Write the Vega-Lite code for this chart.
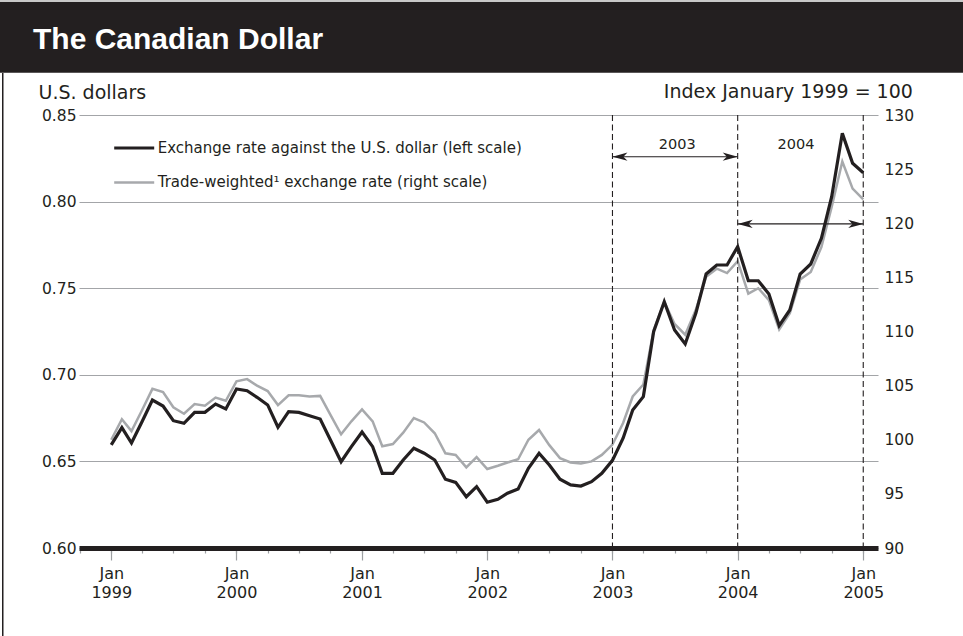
{
  "$schema": "https://vega.github.io/schema/vega-lite/v6.json",
  "padding": 0,
  "background": "white",
  "spacing": 0,
  "bounds": "flush",
  "resolve": {"scale": {"color": "independent", "shape": "independent"}, "legend": {"color": "independent", "shape": "independent"}},
  "config": {"view": {"stroke": null}, "font": "DejaVu Sans", "concat": {"spacing": 0}},
  "datasets": {
    "blank": [{}],
    "fx": [
      {"d": "1999-01-01", "usd": 0.6595, "twi": 100.0},
      {"d": "1999-02-01", "usd": 0.6695, "twi": 101.9},
      {"d": "1999-03-01", "usd": 0.6606, "twi": 100.8},
      {"d": "1999-04-01", "usd": 0.673, "twi": 102.75},
      {"d": "1999-05-01", "usd": 0.6854, "twi": 104.7},
      {"d": "1999-06-01", "usd": 0.682, "twi": 104.4},
      {"d": "1999-07-01", "usd": 0.6735, "twi": 103.0},
      {"d": "1999-08-01", "usd": 0.672, "twi": 102.4},
      {"d": "1999-09-01", "usd": 0.6783, "twi": 103.3},
      {"d": "1999-10-01", "usd": 0.6783, "twi": 103.15},
      {"d": "1999-11-01", "usd": 0.6831, "twi": 103.9},
      {"d": "1999-12-01", "usd": 0.6803, "twi": 103.6},
      {"d": "2000-01-01", "usd": 0.6918, "twi": 105.4},
      {"d": "2000-02-01", "usd": 0.6908, "twi": 105.6},
      {"d": "2000-03-01", "usd": 0.687, "twi": 105.0},
      {"d": "2000-04-01", "usd": 0.6826, "twi": 104.5},
      {"d": "2000-05-01", "usd": 0.6697, "twi": 103.2},
      {"d": "2000-06-01", "usd": 0.6787, "twi": 104.1},
      {"d": "2000-07-01", "usd": 0.6783, "twi": 104.1},
      {"d": "2000-08-01", "usd": 0.6764, "twi": 104.0},
      {"d": "2000-09-01", "usd": 0.6745, "twi": 104.05},
      {"d": "2000-10-01", "usd": 0.6624, "twi": 102.3},
      {"d": "2000-11-01", "usd": 0.6498, "twi": 100.5},
      {"d": "2000-12-01", "usd": 0.6585, "twi": 101.7},
      {"d": "2001-01-01", "usd": 0.667, "twi": 102.8},
      {"d": "2001-02-01", "usd": 0.6585, "twi": 101.7},
      {"d": "2001-03-01", "usd": 0.6431, "twi": 99.4},
      {"d": "2001-04-01", "usd": 0.6431, "twi": 99.6},
      {"d": "2001-05-01", "usd": 0.6508, "twi": 100.65},
      {"d": "2001-06-01", "usd": 0.6576, "twi": 102.0},
      {"d": "2001-07-01", "usd": 0.6547, "twi": 101.6},
      {"d": "2001-08-01", "usd": 0.6508, "twi": 100.6},
      {"d": "2001-09-01", "usd": 0.6397, "twi": 98.75},
      {"d": "2001-10-01", "usd": 0.6379, "twi": 98.6},
      {"d": "2001-11-01", "usd": 0.6296, "twi": 97.45},
      {"d": "2001-12-01", "usd": 0.6354, "twi": 98.4},
      {"d": "2002-01-01", "usd": 0.6264, "twi": 97.3},
      {"d": "2002-02-01", "usd": 0.6281, "twi": 97.6},
      {"d": "2002-03-01", "usd": 0.6316, "twi": 97.9},
      {"d": "2002-04-01", "usd": 0.6341, "twi": 98.2},
      {"d": "2002-05-01", "usd": 0.646, "twi": 100.0},
      {"d": "2002-06-01", "usd": 0.6547, "twi": 100.9},
      {"d": "2002-07-01", "usd": 0.6479, "twi": 99.5},
      {"d": "2002-08-01", "usd": 0.6397, "twi": 98.3},
      {"d": "2002-09-01", "usd": 0.6364, "twi": 97.9},
      {"d": "2002-10-01", "usd": 0.6358, "twi": 97.8},
      {"d": "2002-11-01", "usd": 0.6383, "twi": 98.0},
      {"d": "2002-12-01", "usd": 0.6431, "twi": 98.6},
      {"d": "2003-01-01", "usd": 0.6506, "twi": 99.55},
      {"d": "2003-02-01", "usd": 0.6634, "twi": 101.55},
      {"d": "2003-03-01", "usd": 0.6797, "twi": 104.0},
      {"d": "2003-04-01", "usd": 0.6874, "twi": 105.1},
      {"d": "2003-05-01", "usd": 0.7249, "twi": 110.1},
      {"d": "2003-06-01", "usd": 0.7422, "twi": 112.75},
      {"d": "2003-07-01", "usd": 0.7259, "twi": 110.7},
      {"d": "2003-08-01", "usd": 0.7178, "twi": 109.7},
      {"d": "2003-09-01", "usd": 0.7355, "twi": 112.0},
      {"d": "2003-10-01", "usd": 0.7582, "twi": 115.06},
      {"d": "2003-11-01", "usd": 0.7634, "twi": 115.8},
      {"d": "2003-12-01", "usd": 0.7634, "twi": 115.4},
      {"d": "2004-01-01", "usd": 0.774, "twi": 116.5},
      {"d": "2004-02-01", "usd": 0.7543, "twi": 113.5},
      {"d": "2004-03-01", "usd": 0.7543, "twi": 114.0},
      {"d": "2004-04-01", "usd": 0.7467, "twi": 112.9},
      {"d": "2004-05-01", "usd": 0.7284, "twi": 110.2},
      {"d": "2004-06-01", "usd": 0.7374, "twi": 111.7},
      {"d": "2004-07-01", "usd": 0.7582, "twi": 114.8},
      {"d": "2004-08-01", "usd": 0.764, "twi": 115.5},
      {"d": "2004-09-01", "usd": 0.7788, "twi": 117.8},
      {"d": "2004-10-01", "usd": 0.8028, "twi": 121.5},
      {"d": "2004-11-01", "usd": 0.8394, "twi": 125.7},
      {"d": "2004-12-01", "usd": 0.8221, "twi": 123.2},
      {"d": "2005-01-01", "usd": 0.8167, "twi": 122.2}
    ],
    "vlines": [{"d": "2003-01-01"}, {"d": "2004-01-01"}, {"d": "2005-01-01"}],
    "arrows": [
      {"start": "2003-01-01", "end": "2004-01-01", "y": 0.8259},
      {"start": "2004-01-01", "end": "2005-01-01", "y": 0.7871}
    ],
    "heads": [
      {"d": "2003-01-01", "y": 0.8259, "dir": "left"},
      {"d": "2004-01-01", "y": 0.8259, "dir": "right"},
      {"d": "2004-01-01", "y": 0.7871, "dir": "left"},
      {"d": "2005-01-01", "y": 0.7871, "dir": "right"}
    ],
    "labels": [
      {"d": "2003-07-09", "y": 0.8301, "t": "2003"},
      {"d": "2004-06-19", "y": 0.8301, "t": "2004"}
    ]
  },
  "vconcat": [
    {
      "width": 963, "height": 2,
      "data": {"name": "blank"},
      "mark": {"type": "text", "fontSize": 0, "baseline": "top"},
      "encoding": {"text": {"value": ""}},
      "view": {"fill": "#c8c8c8", "stroke": null}
    },
    {
      "width": 963, "height": 70.7,
      "data": {"name": "blank"},
      "mark": {"type": "text", "fontSize": 0, "baseline": "top"},
      "encoding": {"text": {"value": ""}},
      "view": {"fill": "#231f20", "stroke": null},
      "title": {
        "text": "The Canadian Dollar",
        "orient": "bottom", "anchor": "start", "frame": "group",
        "offset": -47.3, "dx": 33, "baseline": "top",
        "font": "Liberation Sans", "fontSize": 30, "fontWeight": "bold", "color": "#ffffff"
      }
    },
    {
      "spacing": 0,
      "bounds": "flush",
      "resolve": {"scale": {"color": "independent", "shape": "independent"}, "legend": {"color": "independent", "shape": "independent"}},
      "hconcat": [
        {
          "width": 1.8, "height": 563.3,
          "data": {"name": "blank"},
          "mark": {"type": "text", "fontSize": 0, "baseline": "top"},
          "encoding": {"text": {"value": ""}},
          "view": {"stroke": null}
        },
        {
          "width": 1.5, "height": 563.3,
          "data": {"name": "blank"},
          "mark": {"type": "text", "fontSize": 0, "baseline": "top"},
          "encoding": {"text": {"value": ""}},
          "view": {"fill": "#231f20", "stroke": null}
        },
        {
          "width": 75, "height": 1,
          "data": {"name": "blank"},
          "mark": {"type": "text", "fontSize": 0, "baseline": "top"},
          "encoding": {"text": {"value": ""}},
          "view": {"stroke": null}
        },
        {
          "spacing": 0,
          "bounds": "flush",
          "resolve": {"scale": {"color": "independent", "shape": "independent"}, "legend": {"color": "independent", "shape": "independent"}},
          "vconcat": [
            {
              "width": 1, "height": 42,
              "data": {"name": "blank"},
              "mark": {"type": "text", "fontSize": 0, "baseline": "top"},
              "encoding": {"text": {"value": ""}},
              "view": {"stroke": null}
            },
            {
              "width": 799, "height": 433,
              "layer": [
                {
                  "data": {"name": "fx"},
                  "transform": [
                    {"fold": ["usd", "twi"], "as": ["series", "value"]},
                    {"filter": "datum.series == 'twi'"}
                  ],
                  "mark": {"type": "line", "strokeWidth": 2.5, "strokeJoin": "miter"},
                  "encoding": {
                    "x": {"field": "d", "type": "temporal",
                      "scale": {"type": "utc", "nice": false, "domain": [{"year": 1998, "month": 9, "date": 29, "utc": true}, {"year": 2005, "month": 2, "date": 13, "utc": true}]},
                      "axis": {
                        "orient": "bottom", "title": null, "grid": false, "domain": false,
                        "ticks": true, "tickColor": "#9d9fa2", "tickWidth": 1.2, "tickSize": 12,
                        "values": [
                          {"year": 1999, "month": 1, "date": 1, "utc": true},
                          {"year": 2000, "month": 1, "date": 1, "utc": true},
                          {"year": 2001, "month": 1, "date": 1, "utc": true},
                          {"year": 2002, "month": 1, "date": 1, "utc": true},
                          {"year": 2003, "month": 1, "date": 1, "utc": true},
                          {"year": 2004, "month": 1, "date": 1, "utc": true},
                          {"year": 2005, "month": 1, "date": 1, "utc": true}
                        ],
                        "labelExpr": "['Jan', utcFormat(datum.value, '%Y')]",
                        "labelFont": "DejaVu Sans", "labelFontSize": 16, "labelColor": "#231f20",
                        "labelLineHeight": 19.4, "labelPadding": 5, "labelOverlap": false,
                        "labelFlush": false, "labelBound": false
                      }
                    },
                    "y": {
                      "field": "value", "type": "quantitative",
                      "scale": {"domain": [90, 130], "zero": false, "nice": false},
                      "axis": {
                        "orient": "right", "title": "Index January 1999 = 100",
                        "titleAngle": 0, "titleAlign": "right", "titleBaseline": "alphabetic",
                        "titleX": 34.4, "titleY": -17.5,
                        "titleFont": "DejaVu Sans", "titleFontSize": 19, "titleFontWeight": "normal", "titleColor": "#231f20",
                        "values": [90, 95, 100, 105, 110, 115, 120, 125, 130],
                        "labelFont": "DejaVu Sans", "labelFontSize": 15.5, "labelColor": "#231f20",
                        "labelPadding": 6, "labelOverlap": false,
                        "ticks": false, "domain": false, "grid": false
                      }
                    },
                    "color": {
                      "field": "series", "type": "nominal",
                      "scale": {"domain": ["usd", "twi"], "range": ["#231f20", "#a7a9ac"]},
                      "legend": {
                        "orient": "none", "legendX": 34.7, "legendY": 25.5, "title": null,
                        "symbolType": "stroke", "symbolSize": 1600, "symbolStrokeWidth": 3,
                        "symbolOffset": 13,
                        "labelFont": "DejaVu Sans", "labelFontSize": 15, "labelColor": "#231f20",
                        "labelOffset": 16, "labelLimit": 600, "rowPadding": 18.4,
                        "labelExpr": "datum.label == 'usd' ? 'Exchange rate against the U.S. dollar (left scale)' : 'Trade-weighted¹ exchange rate (right scale)'",
                        "encode": {"symbols": {"update": {"strokeWidth": {"signal": "datum.value == 'usd' ? 3.2 : 2.5"}}}}
                      }
                    }
                  }
                },
                {
                  "data": {"name": "vlines"},
                  "mark": {"type": "rule", "color": "#231f20", "strokeWidth": 1.1, "strokeDash": [6, 3.5]},
                  "encoding": {
                    "x": {"field": "d", "type": "temporal", "axis": null,
                      "scale": {"type": "utc", "nice": false, "domain": [{"year": 1998, "month": 9, "date": 29, "utc": true}, {"year": 2005, "month": 2, "date": 13, "utc": true}]}}
                  }
                },
                {
                  "data": {"name": "arrows"},
                  "mark": {"type": "rule", "color": "#231f20", "strokeWidth": 1.2},
                  "encoding": {
                    "x": {"field": "start", "type": "temporal", "axis": null,
                      "scale": {"type": "utc", "nice": false, "domain": [{"year": 1998, "month": 9, "date": 29, "utc": true}, {"year": 2005, "month": 2, "date": 13, "utc": true}]}},
                    "x2": {"field": "end"},
                    "y": {"field": "y", "type": "quantitative", "axis": null, "scale": {"domain": [0.6, 0.85], "zero": false, "nice": false}}
                  }
                },
                {
                  "data": {"name": "heads"},
                  "mark": {"type": "point", "filled": true, "size": 225, "color": "#231f20", "opacity": 1, "strokeWidth": 0},
                  "encoding": {
                    "x": {"field": "d", "type": "temporal", "axis": null,
                      "scale": {"type": "utc", "nice": false, "domain": [{"year": 1998, "month": 9, "date": 29, "utc": true}, {"year": 2005, "month": 2, "date": 13, "utc": true}]}},
                    "y": {"field": "y", "type": "quantitative", "axis": null, "scale": {"domain": [0.6, 0.85], "zero": false, "nice": false}},
                    "shape": {"field": "dir", "type": "nominal", "legend": null,
                      "scale": {"domain": ["left", "right"], "range": ["M0,0L2,-0.55L1.45,0L2,0.55Z", "M0,0L-2,-0.55L-1.45,0L-2,0.55Z"]}}
                  }
                },
                {
                  "data": {"name": "labels"},
                  "mark": {"type": "text", "font": "DejaVu Sans", "fontSize": 14.5, "color": "#231f20", "align": "center", "baseline": "alphabetic"},
                  "encoding": {
                    "x": {"field": "d", "type": "temporal", "axis": null,
                      "scale": {"type": "utc", "nice": false, "domain": [{"year": 1998, "month": 9, "date": 29, "utc": true}, {"year": 2005, "month": 2, "date": 13, "utc": true}]}},
                    "y": {"field": "y", "type": "quantitative", "axis": null, "scale": {"domain": [0.6, 0.85], "zero": false, "nice": false}},
                    "text": {"field": "t"}
                  }
                },
                {
                  "data": {"name": "fx"},
                  "transform": [
                    {"fold": ["usd", "twi"], "as": ["series", "value"]},
                    {"filter": "datum.series == 'usd'"}
                  ],
                  "mark": {"type": "line", "strokeWidth": 3.2, "strokeJoin": "miter"},
                  "encoding": {
                    "x": {
                      "field": "d", "type": "temporal",
                      "scale": {"type": "utc", "nice": false, "domain": [{"year": 1998, "month": 9, "date": 29, "utc": true}, {"year": 2005, "month": 2, "date": 13, "utc": true}]},
                      "axis": {
                        "orient": "bottom", "title": null, "grid": false,
                        "domain": true, "domainColor": "#231f20", "domainWidth": 5,
                        "ticks": true, "tickColor": "#9d9fa2", "tickWidth": 1.2, "tickSize": 5,
                        "tickCount": {"interval": "month", "step": 3},
                        "labels": false, "zindex": 2
                      }
                    },
                    "y": {
                      "field": "value", "type": "quantitative",
                      "scale": {"domain": [0.6, 0.85], "zero": false, "nice": false},
                      "axis": {
                        "orient": "left", "title": "U.S. dollars",
                        "titleAngle": 0, "titleAlign": "left", "titleBaseline": "alphabetic",
                        "titleX": -41, "titleY": -17,
                        "titleFont": "DejaVu Sans", "titleFontSize": 19, "titleFontWeight": "normal", "titleColor": "#231f20",
                        "values": [0.6, 0.65, 0.7, 0.75, 0.8, 0.85], "format": ".2f",
                        "labelFont": "DejaVu Sans", "labelFontSize": 15.5, "labelColor": "#231f20",
                        "labelPadding": 3, "labelOverlap": false,
                        "ticks": false, "domain": false,
                        "grid": true, "gridColor": "#a3a5a8", "gridWidth": 1.2
                      }
                    },
                    "color": {
                      "field": "series", "type": "nominal",
                      "scale": {"domain": ["usd", "twi"], "range": ["#231f20", "#a7a9ac"]},
                      "legend": {
                        "orient": "none", "legendX": 34.7, "legendY": 25.5, "title": null,
                        "symbolType": "stroke", "symbolSize": 1600, "symbolStrokeWidth": 3,
                        "symbolOffset": 13,
                        "labelFont": "DejaVu Sans", "labelFontSize": 15, "labelColor": "#231f20",
                        "labelOffset": 16, "labelLimit": 600, "rowPadding": 18.4,
                        "labelExpr": "datum.label == 'usd' ? 'Exchange rate against the U.S. dollar (left scale)' : 'Trade-weighted¹ exchange rate (right scale)'",
                        "encode": {"symbols": {"update": {"strokeWidth": {"signal": "datum.value == 'usd' ? 3.2 : 2.5"}}}}
                      }
                    }
                  }
                }
              ],
              "resolve": {"scale": {"y": "independent"}, "axis": {"x": "independent"}}
            }
          ]
        }
      ]
    }
  ]
}
